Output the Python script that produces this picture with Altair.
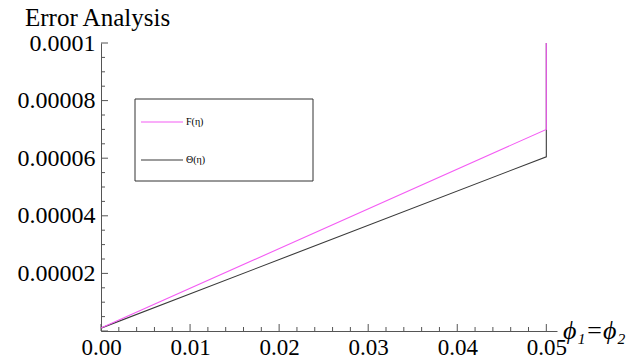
import altair as alt
import pandas as pd

# Error curves against the volume fraction phi1 = phi2
phi = [0.0, 0.05, 0.05]
err_f = [1.0e-6, 7.0e-5, 1.0e-4]
err_theta = [1.0e-6, 6.05e-5, 1.0e-4]

series_names = ["F(η)", "Θ(η)"]
series_colors = ["#f45cf4", "#3a3a3a"]

x_major = [0.0, 0.01, 0.02, 0.03, 0.04, 0.05]
x_minor = [round(0.002 * k, 3) for k in range(26) if k % 5 != 0]
y_major = [0.0, 2e-5, 4e-5, 6e-5, 8e-5, 1e-4]
y_minor = [round(5e-6 * k, 7) for k in range(21) if k % 4 != 0]

W, H = 456, 288
X_MAX = 0.0512
SERIF = "Liberation Serif"

xs = alt.Scale(domain=[0, X_MAX], nice=False, zero=False)
ys = alt.Scale(domain=[0, 1e-4], nice=False)

x_axis = alt.Axis(values=x_major, format=".2f", ticks=False, grid=False,
                  domainColor="#555", labelFont=SERIF, labelFontSize=23,
                  labelColor="black", labelPadding=5, title=None,
                  labelFlush=False, labelOverlap=False)
y_axis = alt.Axis(values=y_major[1:], labelExpr="format(datum.value, '.5~f')",
                  ticks=False, grid=False, domainColor="#555",
                  labelFont=SERIF, labelFontSize=24, labelColor="black",
                  labelPadding=6, title=None, labelOverlap=False)


def series_line(vals, col):
    data = pd.DataFrame({"phi": phi, "err": vals, "i": range(len(phi))})
    return alt.Chart(data).mark_line(strokeWidth=1.1, color=col).encode(
        x=alt.X("phi:Q", scale=xs, axis=x_axis),
        y=alt.Y("err:Q", scale=ys, axis=y_axis),
        order="i:Q",
    )


# Theta first so that F sits on top along the shared vertical edge
theta_line = series_line(err_theta, series_colors[1])
f_line = series_line(err_f, series_colors[0])

# inward-pointing ticks on both axes
def xticks(vals, length):
    return alt.Chart(pd.DataFrame({"v": vals})).mark_rule(color="#555").encode(
        x=alt.X("v:Q", scale=xs, axis=x_axis), y=alt.value(H), y2=alt.value(H - length))

def yticks(vals, length):
    return alt.Chart(pd.DataFrame({"v": vals})).mark_rule(color="#555").encode(
        y=alt.Y("v:Q", scale=ys, axis=y_axis), x=alt.value(0), x2=alt.value(length))

# legend box
legend_box = alt.Chart(pd.DataFrame({"k": [0]})).mark_rect(
    fill="white", stroke="#333", strokeWidth=1).encode(
    x=alt.value(34), x2=alt.value(212), y=alt.value(56), y2=alt.value(138))

legend_layers = []
for i, (name, col) in enumerate(zip(series_names, series_colors)):
    ly = 79 + 38 * i
    one = pd.DataFrame({"label": [name]})
    legend_layers.append(alt.Chart(one).mark_rule(color=col, strokeWidth=1.1).encode(
        x=alt.value(40), x2=alt.value(82), y=alt.value(ly)))
    legend_layers.append(alt.Chart(one).mark_text(
        align="left", baseline="middle", font=SERIF, fontSize=10, color="black").encode(
        x=alt.value(85), y=alt.value(ly), text="label:N"))

axis_label = alt.Chart(pd.DataFrame({"t": ["ϕ₁=ϕ₂"]})).mark_text(
    align="left", baseline="middle", font=SERIF, fontSize=26,
    fontStyle="italic", color="black").encode(
    x=alt.value(W + 6), y=alt.value(H), text="t:N")

title = alt.Chart(pd.DataFrame({"t": ["Error Analysis"]})).mark_text(
    align="left", baseline="alphabetic", font=SERIF, fontSize=25,
    color="black").encode(
    x=alt.value(-76), y=alt.value(-17), text="t:N")

chart = alt.layer(
    xticks(x_minor, 4), xticks(x_major, 7),
    yticks(y_minor, 4), yticks(y_major, 7),
    theta_line, f_line, legend_box, *legend_layers, axis_label, title,
).properties(
    width=W, height=H,
    background="white",
    autosize=alt.AutoSizeParams(type="none"),
    padding={"left": 101, "top": 43, "right": 75, "bottom": 28},
).configure_view(stroke=None)

chart.save("out.html", embed_options={"renderer": "svg", "actions": False})
